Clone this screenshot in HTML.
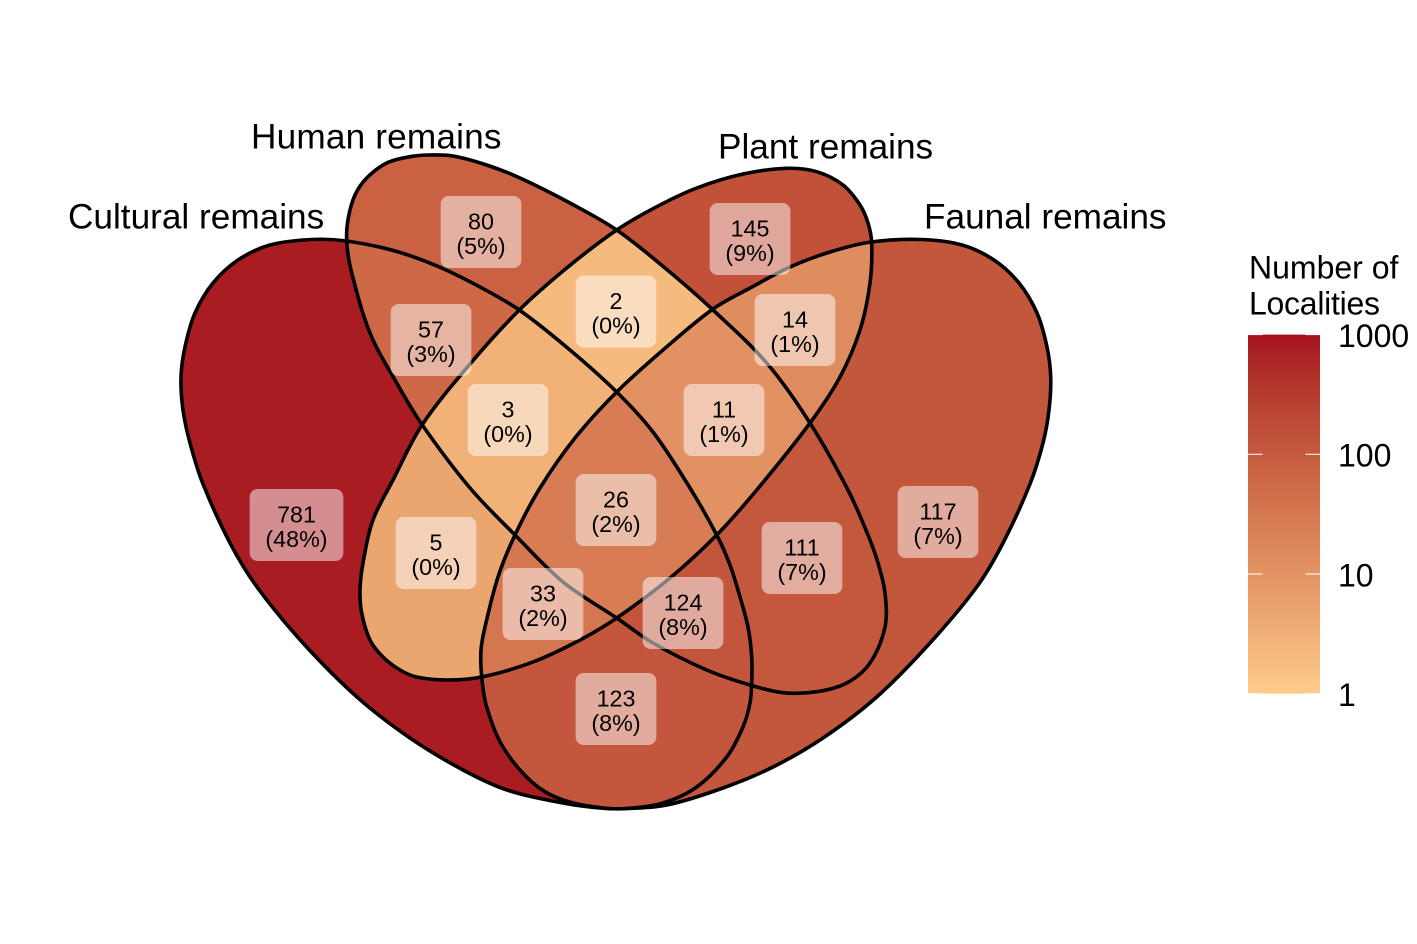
<!DOCTYPE html>
<html lang="en">
<head>
<meta charset="utf-8">
<title>Venn diagram of locality remains</title>
<style>
  html, body { margin: 0; padding: 0; background: #ffffff; }
  svg { display: block; font-family: "Liberation Sans", Arial, sans-serif; }
</style>
</head>
<body>
<svg id="chart" width="1417" height="944" viewBox="0 0 1417 944" xmlns="http://www.w3.org/2000/svg">
  <rect width="1417" height="944" fill="#ffffff"/>
  <defs id="defs">
    <linearGradient id="legend-gradient" x1="0" y1="1" x2="0" y2="0"></linearGradient>
  </defs>
  <g id="regions"></g>
  <g id="outlines" fill="none" stroke="#000" stroke-width="3.6" stroke-linejoin="round"></g>
  <g id="labels"></g>
  <g font-size="35.2" fill="#000">
    <text x="68" y="228.5">Cultural remains</text>
    <text x="251" y="148.5" textLength="250.5" lengthAdjust="spacing">Human remains</text>
    <text x="718" y="158.5">Plant remains</text>
    <text x="924" y="228.5">Faunal remains</text>
  </g>
  <g id="legend">
    <text x="1249" y="278.5" font-size="32" fill="#000">Number of</text>
    <text x="1249" y="314.5" font-size="32" fill="#000" textLength="131" lengthAdjust="spacing">Localities</text>
    <rect id="legend-bar" x="1248" fill="url(#legend-gradient)"/>
  </g>
</svg>
<script>
// ---- data ----
const setKeys = ['C', 'H', 'P', 'F'];
const regionKeys = ['C', 'H', 'P', 'F', 'CH', 'HP', 'PF', 'CP', 'HF', 'CF', 'CHP', 'HPF', 'CPF', 'CHF', 'CHPF'];
const regionCounts = [781, 80, 145, 117, 57, 2, 14, 5, 111, 123, 3, 11, 33, 124, 26];
const legendTicks = [1, 10, 100, 1000];
const legendTickLabels = ['1', '10', '100', '1000'];

// ---- layout (geometry of the diagram, not data) ----
const outlineLayout = {
  C: [[311.7,239.5],[346.7,241],[395,251],[437,266],[480,287],[519.3,310],[570,350],[616.7,392],[653,432],[690,488],[716.7,535],[730,565],[740,597],[748,627],[751.7,657],[751.7,683],[750,703],[743,727],[726.7,757],[696.7,787],[663,803],[627,808.5],[600,808],[563,803],[507,790],[463,770],[410,738],[357,697],[303,643],[257,587],[230,543],[203,484],[190,443],[183,410],[181,377],[185,347],[195,313],[213,283],[238,260],[270,245]],
  H: [[430,155],[453,156],[486.7,165],[520,178],[570,203],[616.7,230],[665,268],[713,310],[766.7,363],[810,423],[848,490],[868,535],[878,563],[885,593],[885,627],[870,663],[846.7,683],[816.7,691.7],[783,692.7],[750,685],[706.7,670],[653,643],[616.7,618],[563,582],[515,535],[470,488],[422.3,425],[396.7,383],[370,333],[351,270],[346.7,240.7],[348.3,218],[355,195],[366.7,178],[386.7,163],[410,156.7]],
  P: [[786.7,168.3],[816.7,171.7],[843,185],[860,205],[868,223],[871.7,243],[870,283],[860,330],[840,377],[810,423],[756.7,490],[716.7,535],[670,578],[616.7,618],[580,640],[533,662],[481.7,677],[447,680],[416.7,677],[400,670],[383,657],[370,640],[361.7,613],[360,590],[363,563],[373,520],[393,480],[422,425],[470,364],[519.3,310],[566.7,268],[616.7,230],[656.7,206.7],[696.7,188],[743,174]],
  F: [[921,239.5],[962,245],[994,260],[1019,283],[1037,313],[1047,347],[1050.7,377],[1049,410],[1043,443],[1030,484],[1003,543],[976.7,587],[930,643],[876.7,697],[823,738],[773,767],[723,788],[667,805],[627,808.5],[603,808],[563,800],[533,783],[503,747],[486.7,707],[481.7,677],[481,650],[485,627],[498,577],[515,535],[540,488],[575,438],[616.7,392],[663,350],[713,309],[752,287],[790,267],[830,252],[871,242]]
};
const labelLayout = {
  C: [296.5,525], H: [481,232], P: [750,239], F: [938,522],
  CH: [431,340], HP: [616,311.5], PF: [795,330], CP: [436,553],
  HF: [802,558], CF: [616,709], CHP: [508,420], HPF: [724,420],
  CPF: [543,604], CHF: [683,613], CHPF: [616,510]
};
const setLabels = { C: 'cultural', H: 'human', P: 'plant', F: 'faunal' };

// ---- scales ----
const colorLow = [253, 204, 138];
const colorHigh = [165, 15, 30];
const legendTop = 334.6;
const legendBottom = 693.7;

function logT(v) { return Math.log10(v) / 3; }
function legendY(v) { return legendBottom - logT(v) * (legendBottom - legendTop); }

function toLin(c) { c /= 255; return c <= 0.04045 ? c / 12.92 : Math.pow((c + 0.055) / 1.055, 2.4); }
function fromLin(c) { const s = c <= 0.0031308 ? 12.92 * c : 1.055 * Math.pow(c, 1 / 2.4) - 0.055; return Math.max(0, Math.min(255, Math.round(s * 255))); }
function labF(t) { return t > 0.008856 ? Math.cbrt(t) : 7.787 * t + 16 / 116; }
function labFi(t) { return t > 0.2069 ? t * t * t : (t - 16 / 116) / 7.787; }
function rgbToLab(c) {
  const r = toLin(c[0]), g = toLin(c[1]), b = toLin(c[2]);
  const x = labF((0.4124 * r + 0.3576 * g + 0.1805 * b) / 0.95047);
  const y = labF(0.2126 * r + 0.7152 * g + 0.0722 * b);
  const z = labF((0.0193 * r + 0.1192 * g + 0.9505 * b) / 1.08883);
  return [116 * y - 16, 500 * (x - y), 200 * (y - z)];
}
function labToRgb(l) {
  const y = (l[0] + 16) / 116, x = l[1] / 500 + y, z = y - l[2] / 200;
  const X = labFi(x) * 0.95047, Y = labFi(y), Z = labFi(z) * 1.08883;
  return 'rgb(' + fromLin(3.2406 * X - 1.5372 * Y - 0.4986 * Z) + ',' +
    fromLin(-0.9689 * X + 1.8758 * Y + 0.0415 * Z) + ',' +
    fromLin(0.0557 * X - 0.2040 * Y + 1.0570 * Z) + ')';
}
const labLow = rgbToLab(colorLow), labHigh = rgbToLab(colorHigh);
function colorAt(t) {
  return labToRgb([0, 1, 2].map(function (i) { return labLow[i] + (labHigh[i] - labLow[i]) * t; }));
}
function fillFor(v) { return colorAt(Math.max(0, Math.min(1, logT(v)))); }

// ---- helpers ----
const NS = 'http://www.w3.org/2000/svg';
function make(tag, parent) { const e = document.createElementNS(NS, tag); parent.appendChild(e); return e; }
function smoothPath(pts) {
  const n = pts.length;
  function tangent(i) {
    const a = pts[(i - 1 + n) % n], b = pts[(i + 1) % n];
    const dx = b[0] - a[0], dy = b[1] - a[1];
    const len = Math.hypot(dx, dy) || 1;
    return [dx / len, dy / len];
  }
  let d = 'M' + pts[0][0] + ' ' + pts[0][1];
  for (let i = 0; i < n; i++) {
    const p1 = pts[i], p2 = pts[(i + 1) % n];
    const t1 = tangent(i), t2 = tangent(i + 1);
    const h = Math.hypot(p2[0] - p1[0], p2[1] - p1[1]) / 3;
    d += 'C' + (p1[0] + t1[0] * h).toFixed(2) + ' ' + (p1[1] + t1[1] * h).toFixed(2) + ' ' +
      (p2[0] - t2[0] * h).toFixed(2) + ' ' + (p2[1] - t2[1] * h).toFixed(2) + ' ' +
      p2[0] + ' ' + p2[1];
  }
  return d + 'Z';
}

const defs = document.getElementById('defs');
const regionsG = document.getElementById('regions');
const outlinesG = document.getElementById('outlines');
const labelsG = document.getElementById('labels');
const legendG = document.getElementById('legend');

// ---- set outlines and clip paths ----
const shapePaths = {};
setKeys.forEach(function (k) {
  shapePaths[k] = smoothPath(outlineLayout[k]);
  const cp = make('clipPath', defs);
  cp.setAttribute('id', 'clip-' + k);
  const cpPath = make('path', cp);
  cpPath.setAttribute('d', shapePaths[k]);
});

// ---- region fills: lower-order intersections first, higher ones painted over ----
const total = regionCounts.reduce(function (a, b) { return a + b; }, 0);
const order = regionKeys.map(function (k, i) { return i; }).sort(function (a, b) {
  return regionKeys[a].length - regionKeys[b].length;
});
order.forEach(function (i) {
  const key = regionKeys[i];
  const sets = key.split('');
  let parent = regionsG;
  for (let s = 1; s < sets.length; s++) {
    const g = make('g', parent);
    g.setAttribute('clip-path', 'url(#clip-' + sets[s] + ')');
    parent = g;
  }
  const region = make('path', parent);
  region.setAttribute('d', shapePaths[sets[0]]);
  region.setAttribute('fill', fillFor(regionCounts[i]));
  
  
});

setKeys.forEach(function (k) {
  const outline = make('path', outlinesG);
  outline.setAttribute('d', shapePaths[k]);
  
  
});

// ---- labels ----
regionKeys.forEach(function (key, i) {
  const anchor = labelLayout[key];
  const group = make('g', labelsG);
  
  
  const box = make('rect', group);
  
  
  box.setAttribute('fill', '#ffffff');
  box.setAttribute('fill-opacity', '0.5');
  box.setAttribute('rx', '8');
  box.setAttribute('ry', '8');
  const countText = make('text', group);
  
  
  countText.textContent = String(regionCounts[i]);
  const pctText = make('text', group);
  
  
  pctText.textContent = '(' + Math.round(regionCounts[i] / total * 100) + '%)';
  [[countText, -2.7], [pctText, 22]].forEach(function (pair) {
    pair[0].setAttribute('x', anchor[0]);
    pair[0].setAttribute('y', anchor[1] + pair[1]);
    pair[0].setAttribute('font-size', '23.3');
    pair[0].setAttribute('text-anchor', 'middle');
    pair[0].setAttribute('fill', '#000');
  });
  const w = Math.max(countText.getComputedTextLength(), pctText.getComputedTextLength()) + 31.5;
  box.setAttribute('x', anchor[0] - w / 2);
  box.setAttribute('y', anchor[1] - 36);
  box.setAttribute('width', w);
  box.setAttribute('height', 72);
});

// ---- legend ----
const gradient = document.getElementById('legend-gradient');
for (let s = 0; s <= 40; s++) {
  const stop = make('stop', gradient);
  stop.setAttribute('offset', (s / 40).toFixed(3));
  stop.setAttribute('stop-color', colorAt(s / 40));
}
const bar = document.getElementById('legend-bar');
bar.setAttribute('y', legendTop);
bar.setAttribute('width', 72);
bar.setAttribute('height', legendBottom - legendTop);
legendTicks.forEach(function (v, i) {
  const y = legendY(v);
  [[1248, 1262.4], [1305.6, 1320]].forEach(function (span, side) {
    const tick = make('line', legendG);
    
    
    tick.setAttribute('x1', span[0]);
    tick.setAttribute('x2', span[1]);
    tick.setAttribute('y1', y);
    tick.setAttribute('y2', y);
    tick.setAttribute('stroke', '#ffffff');
    tick.setAttribute('stroke-width', '1');
  });
  const label = make('text', legendG);
  
  
  label.setAttribute('x', 1338);
  label.setAttribute('y', y + 12.3);
  label.setAttribute('font-size', '32');
  label.setAttribute('fill', '#000');
  label.textContent = legendTickLabels[i];
});
</script>
</body>
</html>
